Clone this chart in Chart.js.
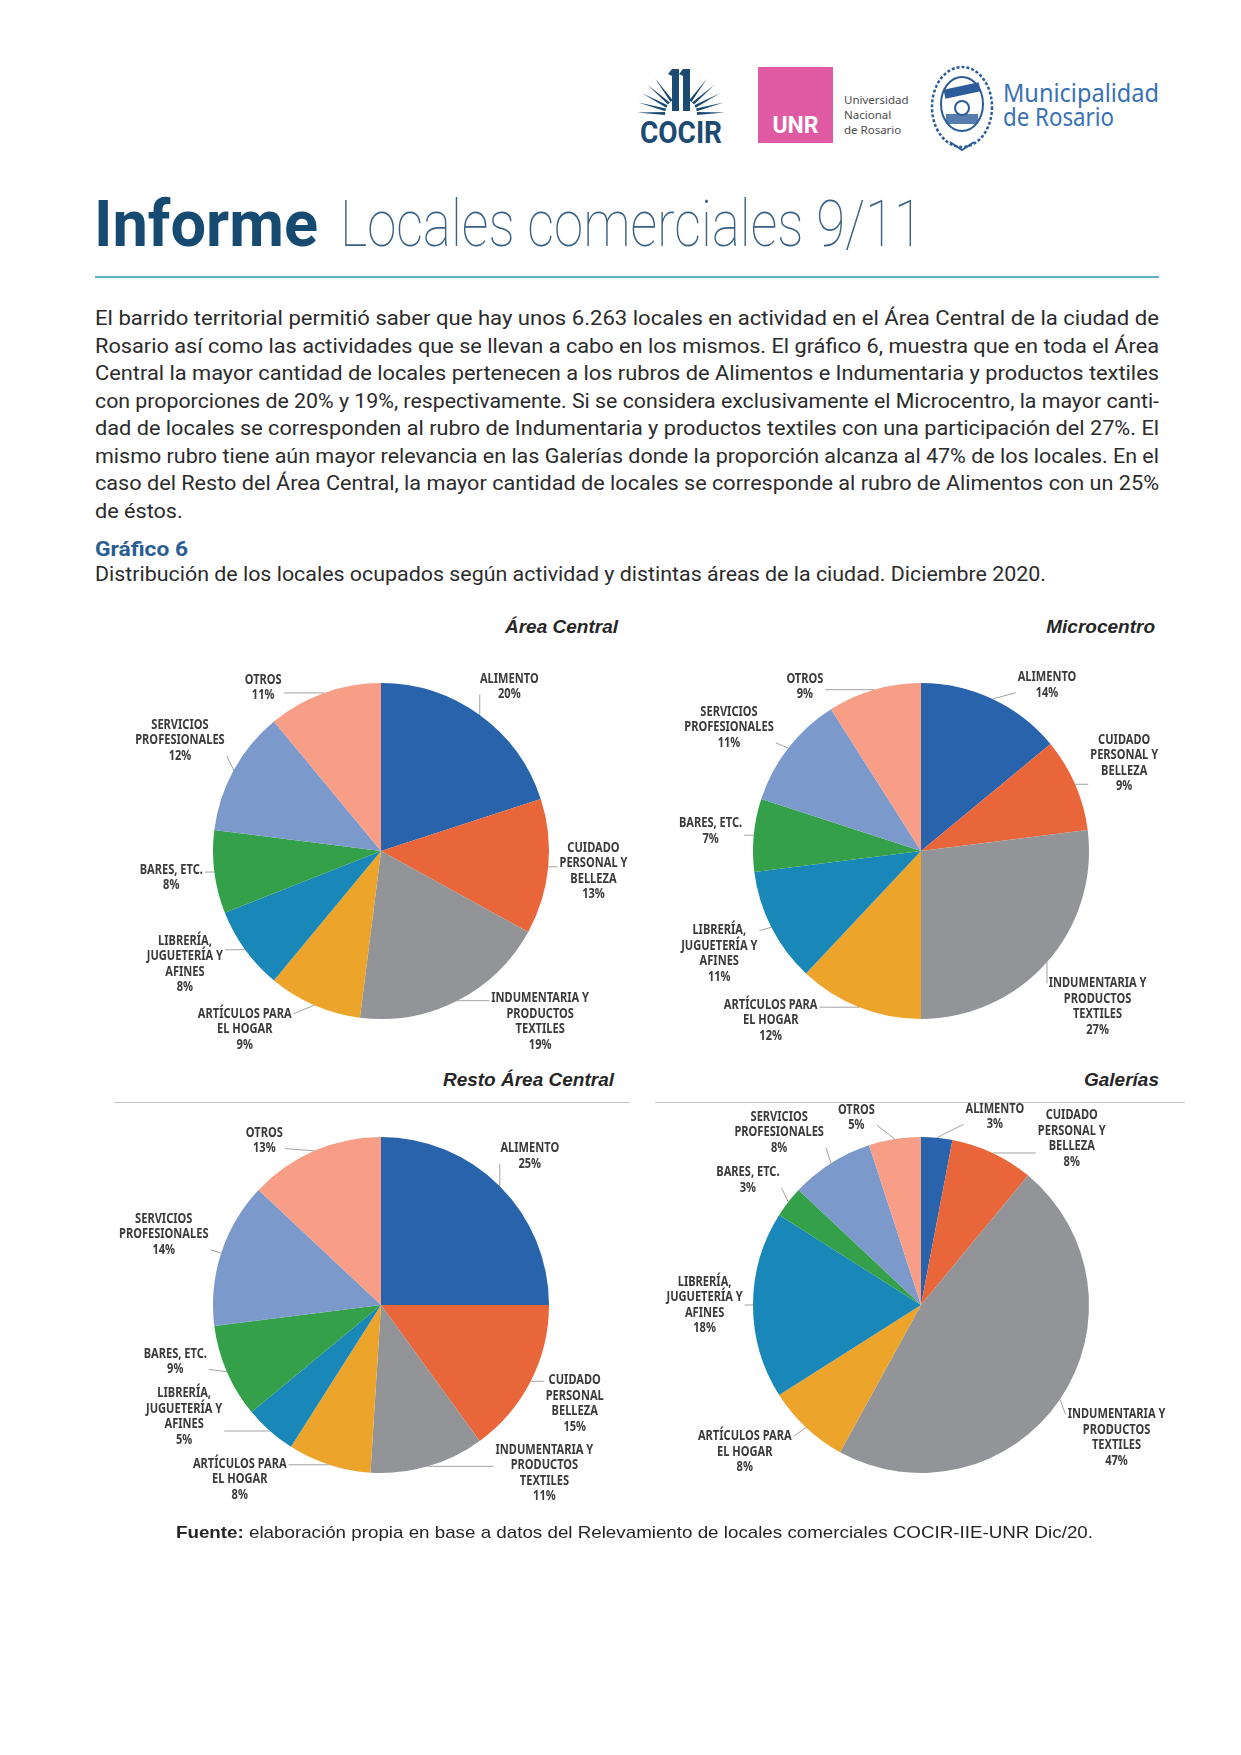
<!DOCTYPE html>
<html lang="es">
<head>
<meta charset="utf-8">
<title>Informe Locales comerciales 9/11</title>
<script src="https://cdn.jsdelivr.net/npm/chart.js@4.4.1/dist/chart.umd.min.js"></script>
<style>
  body { margin: 0; background: #fff; }
  #page { position: relative; width: 1241px; height: 1755px; overflow: hidden; background: #fff;
          font-family: "Liberation Sans", Arial, sans-serif; color: #2b2b2b; }
  .abs { position: absolute; }
  .fit { white-space: nowrap; }
  .fit span { display: inline-block; transform-origin: 0 50%; }
  .para { left: 95px; height: 27.5px; line-height: 27.5px; font-size: 20px;
          font-family: "Liberation Sans Narrow", "Arial Narrow", Roboto, sans-serif; color: #2b2b2b; }
  .ptitle { font: italic bold 19px "Liberation Sans", Arial, sans-serif; color: #262626;
            text-align: right; line-height: 22px; }
  .sep { height: 1px; background: #c8c8c8; }
  canvas { position: absolute; }
</style>
</head>
<body>
<div id="page">

  <!-- logos -->
  <svg class="abs" style="left:637px;top:66px" width="88" height="80" viewBox="0 0 88 80">
    <g fill="#1c4a72" id="rays"></g>
    <rect x="35" y="3" width="7" height="42" fill="#1c4a72"/>
    <rect x="46" y="3" width="7" height="42" fill="#1c4a72"/>
    <polygon points="31,8 35,3 35,10" fill="#1c4a72"/>
    <polygon points="42,8 46,3 46,10" fill="#1c4a72"/>
    <text x="44" y="77" text-anchor="middle" font-family="Liberation Sans Narrow, Roboto, sans-serif"
          font-weight="bold" font-size="31" fill="#1c4a72" textLength="82" lengthAdjust="spacingAndGlyphs">COCIR</text>
  </svg>
  <div class="abs" style="left:758px;top:67px;width:75px;height:76px;background:#e05aa3"></div>
  <div class="abs" style="left:758px;top:112px;width:75px;text-align:center;color:#fff;font:bold 23px Roboto, sans-serif;line-height:28px">UNR</div>
  <div class="abs" style="left:844px;top:92px;font:11.5px 'Noto Sans', sans-serif;line-height:15px;color:#4d4d4d">Universidad<br>Nacional<br>de Rosario</div>
  <svg class="abs" style="left:928px;top:64px" width="68" height="88" viewBox="0 0 68 88">
    <ellipse cx="34" cy="43" rx="30" ry="40" fill="none" stroke="#2d5c9a" stroke-width="2.5" stroke-dasharray="3 2"/>
    <ellipse cx="34" cy="40" rx="21" ry="27" fill="none" stroke="#2d5c9a" stroke-width="2"/>
    <rect x="16" y="22" width="36" height="9" fill="#2d5c9a" transform="rotate(-12 34 26)"/>
    <circle cx="34" cy="44" r="7" fill="none" stroke="#2d5c9a" stroke-width="2"/>
    <rect x="18" y="50" width="32" height="10" fill="#2d5c9a" opacity="0.8"/>
    <path d="M22 78 L34 86 L46 78" fill="none" stroke="#2d5c9a" stroke-width="2"/>
  </svg>
  <div class="abs fit" data-w="156" data-mode="scale" style="left:1003px;top:77px;font:25px 'Noto Sans', sans-serif;line-height:30px;color:#3a71b5"><span>Municipalidad</span></div>
  <div class="abs fit" data-w="111" data-mode="scale" style="left:1003px;top:101px;font:25px 'Noto Sans', sans-serif;line-height:30px;color:#3a71b5"><span>de Rosario</span></div>

  <!-- title -->
  <div class="abs fit" data-w="224" data-mode="scale" style="left:94px;top:193px;font:bold 64px Roboto, sans-serif;line-height:64px;color:#174a71"><span>Informe</span></div>
  <div class="abs fit" data-w="583" data-mode="scale" style="left:340px;top:193px;font:100 64px Roboto, Lato, sans-serif;line-height:64px;color:#3a6184"><span>Locales comerciales 9/11</span></div>
  <div class="abs" style="left:95px;top:276px;width:1064px;height:1.5px;background:#5ab4c5"></div>

  <!-- paragraph -->
  <div id="para"></div>

  <div class="abs fit" data-w="93" data-mode="scale" style="left:95px;top:536px;font:bold 20px 'Liberation Sans Narrow', Roboto, sans-serif;line-height:27px;color:#2a5d91"><span>Gráfico 6</span></div>
  <div class="abs fit" data-w="951" data-mode="scale" style="left:95px;top:561px;font:20px 'Liberation Sans Narrow', Roboto, sans-serif;line-height:27px;color:#2b2b2b"><span>Distribución de los locales ocupados según actividad y distintas áreas de la ciudad. Diciembre 2020.</span></div>

  <!-- panel titles -->
  <div class="abs ptitle" style="left:318px;top:616px;width:300px">Área Central</div>
  <div class="abs ptitle" style="left:855px;top:616px;width:300px">Microcentro</div>
  <div class="abs ptitle" style="left:314px;top:1069px;width:300px">Resto Área Central</div>
  <div class="abs ptitle" style="left:859px;top:1069px;width:300px">Galerías</div>
  <div class="abs sep" style="left:114px;top:1102px;width:516px"></div>
  <div class="abs sep" style="left:655px;top:1102px;width:530px"></div>

  <canvas id="pieAreaCentral" width="600" height="500" style="left:81px;top:601px"></canvas>
  <canvas id="pieMicrocentro" width="600" height="500" style="left:621px;top:601px"></canvas>
  <canvas id="pieResto" width="600" height="500" style="left:81px;top:1055px"></canvas>
  <canvas id="pieGalerias" width="600" height="500" style="left:621px;top:1055px"></canvas>

  <div class="abs fit" data-w="917" data-mode="scale" style="left:176px;top:1522px;font:17px 'Liberation Sans', Arial, sans-serif;line-height:22px;color:#262626"><span><b>Fuente:</b> elaboración propia en base a datos del Relevamiento de locales comerciales COCIR-IIE-UNR Dic/20.</span></div>
</div>

<script>
// --- datos ---
const categories = ['ALIMENTO', 'CUIDADO PERSONAL Y BELLEZA', 'INDUMENTARIA Y PRODUCTOS TEXTILES',
  'ARTÍCULOS PARA EL HOGAR', 'LIBRERÍA, JUGUETERÍA Y AFINES', 'BARES, ETC.',
  'SERVICIOS PROFESIONALES', 'OTROS'];

// etiquetas tal como aparecen cortadas en el gráfico
const labelLines = [['ALIMENTO'], ['CUIDADO', 'PERSONAL Y', 'BELLEZA'], ['INDUMENTARIA Y', 'PRODUCTOS', 'TEXTILES'],
  ['ARTÍCULOS PARA', 'EL HOGAR'], ['LIBRERÍA,', 'JUGUETERÍA Y', 'AFINES'], ['BARES, ETC.'],
  ['SERVICIOS', 'PROFESIONALES'], ['OTROS']];
const restoLabelLines = [['ALIMENTO'], ['CUIDADO', 'PERSONAL', 'BELLEZA'], ['INDUMENTARIA Y', 'PRODUCTOS', 'TEXTILES'],
  ['ARTÍCULOS PARA', 'EL HOGAR'], ['LIBRERÍA,', 'JUGUETERÍA Y', 'AFINES'], ['BARES, ETC.'],
  ['SERVICIOS', 'PROFESIONALES'], ['OTROS']];

// porcentajes (%)
const areaCentral = [20, 13, 19, 9, 8, 8, 12, 11];
const microcentro = [14, 9, 27, 12, 11, 7, 11, 9];
const restoAreaCentral = [25, 15, 11, 8, 5, 9, 14, 13];
const galerias = [3, 8, 47, 8, 18, 3, 8, 5];

const sliceColors = ['#2863ac', '#e9663a', '#929497', '#eca42a', '#1988b8', '#34a04a', '#7b99cb', '#f89d86'];

const paragraphLines = [
  'El barrido territorial permitió saber que hay unos 6.263 locales en actividad en el Área Central de la ciudad de',
  'Rosario así como las actividades que se llevan a cabo en los mismos. El gráfico 6, muestra que en toda el Área',
  'Central la mayor cantidad de locales pertenecen a los rubros de Alimentos e Indumentaria y productos textiles',
  'con proporciones de 20% y 19%, respectivamente. Si se considera exclusivamente el Microcentro, la mayor canti-',
  'dad de locales se corresponden al rubro de Indumentaria y productos textiles con una participación del 27%. El',
  'mismo rubro tiene aún mayor relevancia en las Galerías donde la proporción alcanza al 47% de los locales. En el',
  'caso del Resto del Área Central, la mayor cantidad de locales se corresponde al rubro de Alimentos con un 25%',
  'de éstos.'
];

// --- texto del informe ---
const para = document.getElementById('para');
paragraphLines.forEach((line, i) => {
  const d = document.createElement('div');
  d.className = 'abs fit para';
  d.style.top = (305 + i * 27.5) + 'px';
  d.dataset.w = 1064;
  d.dataset.mode = i < paragraphLines.length - 1 ? 'justify' : 'widen';
  const s = document.createElement('span');
  s.textContent = line;
  d.appendChild(s);
  para.appendChild(d);
});

// la letra del original es algo más ancha que Liberation Sans Narrow
const MAX_WIDEN = 1.16;

// ajusta cada línea al ancho del original
function fitLine(el) {
  const span = el.querySelector('span');
  const target = parseFloat(el.dataset.w);
  const w = span.getBoundingClientRect().width;
  const mode = el.dataset.mode;
  if (mode === 'scale') {
    span.style.transform = 'scaleX(' + (target / w) + ')';
  } else if (mode === 'justify') {
    const s = Math.min(MAX_WIDEN, target / w);
    span.style.transform = 'scaleX(' + s + ')';
    const n = (span.textContent.match(/ /g) || []).length;
    if (n) span.style.wordSpacing = ((target / s - w) / n) + 'px';
  } else {
    // última línea: mismo ancho de letra que la línea anterior
    const prev = el.previousElementSibling.querySelector('span');
    span.style.transform = prev.style.transform;
  }
}
document.querySelectorAll('.fit').forEach(fitLine);

// rayos del logo COCIR
const rays = document.getElementById('rays');
[36, 49, 62, 75, 88].forEach(a => {
  [-1, 1].forEach(side => {
    const t = side * a * Math.PI / 180;
    const cx = 44, cy = 48;
    const p = (r, off) => {
      const ang = t + off;
      return (cx + r * Math.sin(ang)).toFixed(1) + ',' + (cy - r * Math.cos(ang)).toFixed(1);
    };
    const poly = document.createElementNS('http://www.w3.org/2000/svg', 'polygon');
    poly.setAttribute('points', [p(16, -0.09), p(44, 0), p(16, 0.09)].join(' '));
    rays.appendChild(poly);
  });
});

// --- etiquetas fuera del gráfico, con líneas guía ---
function boxDist(bx, by, w, h, px, py) {
  const ddx = Math.max(Math.abs(px - bx) - w / 2, 0);
  const ddy = Math.max(Math.abs(py - by) - h / 2, 0);
  return Math.hypot(ddx, ddy);
}

// separación mínima entre etiquetas vecinas
function overlaps(a, b) {
  return Math.abs(a.x - b.x) * 2 < a.w + b.w + 24 && Math.abs(a.y - b.y) * 2 < a.h + b.h + 14;
}

const sliceLabels = {
  id: 'sliceLabels',
  afterDatasetsDraw(chart, args, opts) {
    const ctx = chart.ctx;
    const meta = chart.getDatasetMeta(0);
    const values = chart.data.datasets[0].data;
    ctx.save();
    ctx.font = opts.font;
    ctx.textAlign = 'center';
    ctx.textBaseline = 'middle';

    const items = meta.data.map((arc, i) => {
      const p = arc.getProps(['x', 'y', 'startAngle', 'endAngle', 'outerRadius'], true);
      const mid = (p.startAngle + p.endAngle) / 2;
      const text = opts.lines[i].concat([values[i] + '%']);
      const w = Math.max(...text.map(t => ctx.measureText(t).width)) * opts.squeeze;
      const h = text.length * opts.lineHeight;
      const theta0 = mid + Math.PI / 2;              // desde arriba, sentido horario
      const fromVertical = Math.abs(Math.asin(Math.sin(theta0)));
      return { p, mid, text, w, h, theta0, fromVertical };
    });

    // primero las etiquetas de arriba y abajo, que son las que menos lugar tienen
    const order = items.slice().sort((a, b) => a.fromVertical - b.fromVertical);
    const placed = [];
    order.forEach(it => {
      const { p, w, h } = it;
      const need = p.outerRadius + opts.gap;
      const boxAt = theta => {
        const dx = Math.sin(theta), dy = -Math.cos(theta);
        let t = p.outerRadius * 0.3;
        while (boxDist(p.x + dx * t, p.y + dy * t, w, h, p.x, p.y) < need) t += 1;
        return { x: p.x + dx * t, y: p.y + dy * t, w, h };
      };
      const inside = b => b.y - b.h / 2 >= p.y - opts.top && b.y + b.h / 2 <= p.y + opts.bottom &&
        b.x - b.w / 2 >= p.x - opts.side && b.x + b.w / 2 <= p.x + opts.side;
      let box = null;
      for (let k = 0; k <= 240 && !box; k++) {
        const delta = (k % 2 ? 1 : -1) * Math.ceil(k / 2) * Math.PI / 180;
        const b = boxAt(it.theta0 + delta);
        if (inside(b) && !placed.some(o => overlaps(o, b))) box = b;
      }
      it.box = box || boxAt(it.theta0);
      placed.push(it.box);
    });

    items.forEach(it => {
      const { p, mid, text, w, h, box } = it;
      // línea guía desde el borde del sector
      const ex = p.x + Math.cos(mid) * p.outerRadius;
      const ey = p.y + Math.sin(mid) * p.outerRadius;
      const nx = Math.min(Math.max(ex, box.x - w / 2 - 2), box.x + w / 2 + 2);
      const ny = Math.min(Math.max(ey, box.y - h / 2 + opts.lineHeight / 2), box.y + h / 2 - opts.lineHeight / 2);
      if (Math.hypot(nx - ex, ny - ey) > 5) {
        ctx.strokeStyle = opts.lineColor;
        ctx.lineWidth = 0.8;
        ctx.beginPath();
        ctx.moveTo(ex, ey);
        ctx.lineTo(nx, ny);
        ctx.stroke();
      }
      ctx.fillStyle = opts.color;
      text.forEach((line, k) => {
        ctx.save();
        ctx.translate(box.x, box.y - h / 2 + opts.lineHeight * (k + 0.5));
        ctx.scale(opts.squeeze, 1);
        ctx.fillText(line, 0, 0);
        ctx.restore();
      });
    });
    ctx.restore();
  }
};

function createPie(id, values, lines, band) {
  const ctx = document.getElementById(id).getContext('2d');
  return new Chart(ctx, {
    type: 'pie',
    data: {
      labels: categories,
      datasets: [{
        data: values,
        backgroundColor: sliceColors,
        borderWidth: 0
      }]
    },
    options: {
      responsive: false,
      animation: false,
      // 600x500 de lienzo, área del gráfico 336x336 -> radio 168
      layout: { padding: { left: 132, right: 132, top: 82, bottom: 82 } },
      plugins: {
        legend: { display: false },
        tooltip: { enabled: false },
        sliceLabels: {
          lines: lines,
          font: 'bold 13.5px "Noto Sans", "Open Sans", sans-serif',
          squeeze: 0.82,
          color: '#3a3a3a',
          lineColor: '#8a8a8a',
          lineHeight: 15.5,
          gap: 10,
          top: band[0],
          bottom: band[1],
          side: 262
        }
      }
    },
    plugins: [sliceLabels]
  });
}

// límites verticales del área de etiquetas de cada gráfico (sobre / bajo el centro)
createPie('pieAreaCentral', areaCentral, labelLines, [180, 202]);
createPie('pieMicrocentro', microcentro, labelLines, [182, 194]);
createPie('pieResto', restoAreaCentral, restoLabelLines, [180, 200]);
createPie('pieGalerias', galerias, labelLines, [204, 172]);
</script>
</body>
</html>
